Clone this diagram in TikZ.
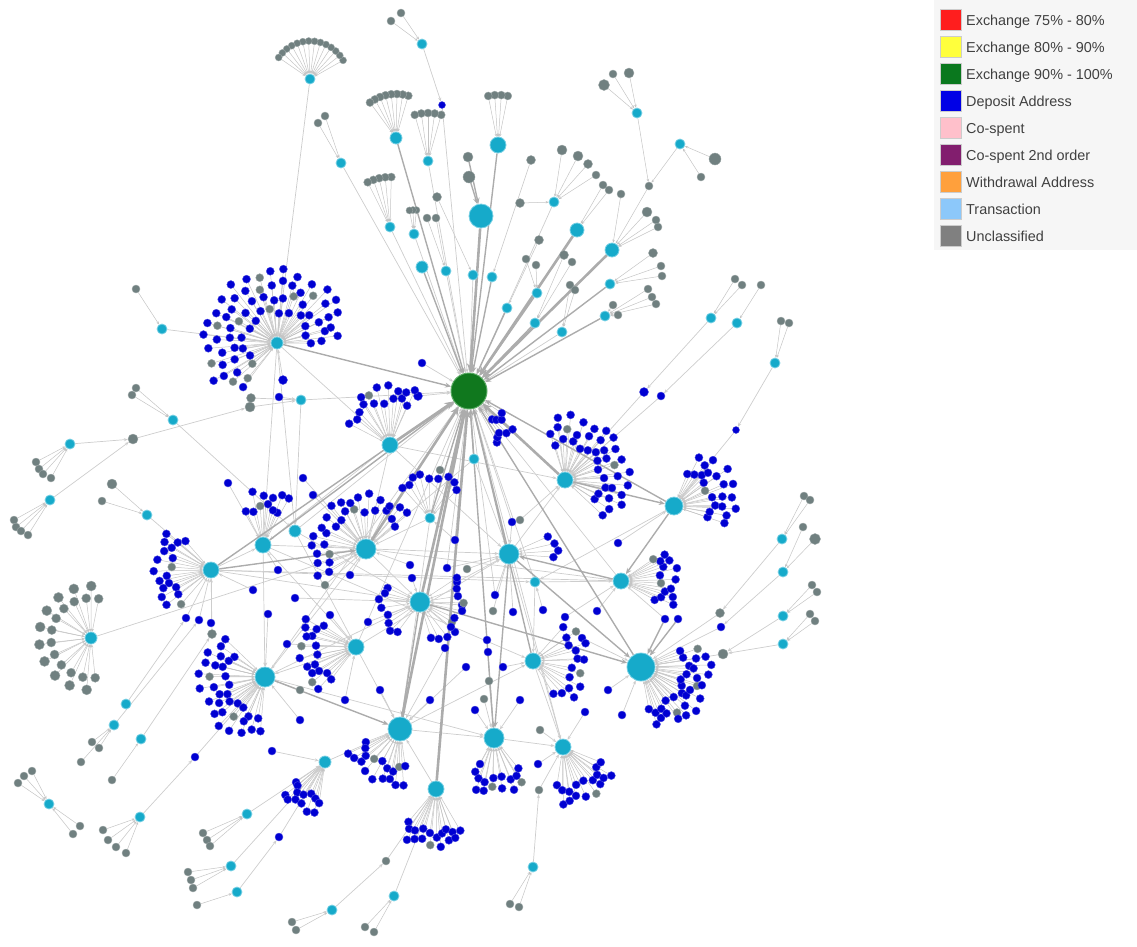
\documentclass[tikz,border=0pt]{standalone}
\usepackage{fontspec}
\setmainfont{Liberation Sans}
\usetikzlibrary{arrows.meta}
\pgfdeclarelayer{background}
\pgfsetlayers{background,main}
\definecolor{depC}{RGB}{0,0,210}
\definecolor{uncC}{RGB}{112,128,128}
\definecolor{hubC}{RGB}{22,170,202}
\definecolor{hubB}{RGB}{120,208,228}
\definecolor{exC}{RGB}{16,120,30}
\definecolor{exB}{RGB}{90,170,100}
\definecolor{edgeF}{RGB}{196,196,196}
\definecolor{edgeL}{RGB}{205,205,205}
\definecolor{edgeM}{RGB}{172,172,172}
\definecolor{legbg}{RGB}{246,246,246}
\definecolor{lgRed}{RGB}{255,30,30}
\definecolor{lgYel}{RGB}{255,255,60}
\definecolor{lgGrn}{RGB}{10,120,30}
\definecolor{lgBlu}{RGB}{0,0,230}
\definecolor{lgPnk}{RGB}{255,192,203}
\definecolor{lgPur}{RGB}{130,30,110}
\definecolor{lgOra}{RGB}{255,160,60}
\definecolor{lgLbl}{RGB}{140,200,250}
\definecolor{lgGry}{RGB}{128,128,128}
\tikzset{
 dot/.style={circle, inner sep=0pt, line width=0.4pt},
 hub/.style={circle, inner sep=0pt, fill=hubC, draw=hubB, line width=0.8pt},
 fan/.style={draw=edgeF, line width=0.5pt, -{Stealth[length=3pt,width=2.5pt]}},
 ln/.style={draw=edgeL, line width=0.7pt, -{Stealth[length=4pt,width=3.2pt]}},
 med/.style={draw=edgeM, line width=1.4pt, -{Stealth[length=6pt,width=5pt]}},
 thk/.style={draw=edgeM, line width=2.6pt, -{Stealth[length=9pt,width=8pt]}},
 legsq/.style={minimum size=21pt, inner sep=0pt, draw=black!20, line width=0.4pt},
 legtx/.style={anchor=base west, inner sep=0pt, text=black!75, font=\fontsize{14.4}{17}\selectfont},
}
% fan dots: hub, start, end, count, radius, gray every, size
\newcommand\fanring[7]{%
  \ifnum#6=1 \def\fjit{0}\else\def\fjit{1}\fi
  \foreach \i in {1,...,#4}{%
    \pgfmathsetmacro\fang{#2+(#3-#2)*(\i-0.5)/#4+2*\fjit*cos(\i*61)}%
    \pgfmathsetmacro\frad{#5+3.5*\fjit*sin(\i*97+#5*13)}%
    \pgfmathtruncatemacro\fm{mod(\i,#6)}%
    \ifnum\fm=0 \def\dcol{uncC}\else\def\dcol{depC}\fi
    \node[dot, fill=\dcol, draw=\dcol!70!white, minimum size=#7pt] (#1-#5-\i) at ([shift={(\fang:\frad pt)}]#1) {};
  }%
}
\newcommand\fanedges[7]{%
  \foreach \i in {1,...,#4}{\draw[fan] (#1-#5-\i) -- (#1);}%
}
\newcommand\allfans[1]{%
#1{t2}{25}{150}{14}{38}{1}{7}
#1{t4}{70}{130}{8}{44}{1}{8}
#1{t5}{70}{110}{5}{48}{1}{8}
#1{t6}{75}{105}{4}{50}{1}{8}
#1{t8}{85}{120}{5}{50}{1}{8}
#1{t9}{80}{105}{3}{24}{1}{7}
#1{t29}{-10}{230}{14}{33}{7}{8}
#1{t29}{-5}{235}{18}{46}{6}{8}
#1{t29}{0}{240}{21}{59}{5}{8}
#1{t29}{20}{215}{17}{71}{8}{8}
#1{t36}{60}{160}{9}{45}{99}{8}
#1{t36}{60}{125}{7}{57}{6}{8}
#1{t37}{125}{235}{10}{42}{5}{8}
#1{t37}{135}{225}{9}{54}{99}{8}
#1{t38}{60}{120}{6}{38}{4}{8}
#1{t38}{55}{105}{5}{51}{99}{8}
#1{t40}{30}{220}{14}{40}{6}{8}
#1{t40}{35}{215}{16}{52}{99}{8}
#1{t41}{40}{140}{9}{42}{99}{8}
#1{t43}{150}{240}{8}{38}{99}{8}
#1{t43}{-80}{40}{10}{41}{7}{8}
#1{t44}{-10}{30}{4}{46}{99}{8}
#1{t45}{-40}{110}{12}{38}{99}{8}
#1{t45}{-50}{115}{14}{50}{6}{8}
#1{t45}{-30}{100}{12}{62}{99}{8}
#1{t46}{-25}{75}{9}{38}{5}{8}
#1{t46}{-25}{70}{9}{51}{99}{8}
#1{t46}{-10}{55}{5}{62}{99}{8}
#1{t47}{-35}{40}{8}{42}{4}{8}
#1{t47}{-30}{35}{7}{54}{99}{8}
#1{t48}{70}{285}{12}{40}{1}{9}
#1{t48}{80}{275}{10}{52}{1}{10}
#1{t49}{140}{265}{11}{40}{99}{8}
#1{t49}{130}{270}{13}{52}{5}{8}
#1{t49}{150}{255}{9}{64}{99}{8}
#1{t50}{140}{240}{9}{42}{99}{8}
#1{t50}{145}{235}{9}{54}{4}{8}
#1{t51}{-65}{55}{10}{42}{99}{8}
#1{t51}{-50}{40}{6}{52}{3}{8}
#1{t52}{-85}{25}{12}{45}{99}{8}
#1{t52}{-80}{20}{12}{56}{4}{8}
#1{t52}{-60}{15}{8}{67}{99}{8}
#1{t53}{-165}{-75}{9}{40}{4}{8}
#1{t53}{-160}{-80}{9}{54}{99}{8}
#1{t54}{-125}{-45}{8}{42}{99}{8}
#1{t54}{-115}{-55}{6}{52}{3}{8}
#1{t55}{-105}{-15}{9}{42}{99}{8}
#1{t55}{-95}{-25}{8}{54}{5}{8}
#1{t56}{-150}{-95}{7}{38}{99}{8}
#1{t56}{-145}{-100}{6}{50}{99}{8}
#1{t57}{-135}{-55}{10}{45}{99}{8}
#1{t57}{-125}{-65}{7}{55}{4}{8}
#1{G}{-55}{-30}{4}{40}{99}{8}
#1{G}{-65}{-40}{5}{55}{99}{8}
}
\begin{document}
\begin{tikzpicture}[x=1pt,y=-1pt]
\useasboundingbox (0,0) rectangle (1137,946);
% legend
\fill[legbg] (934,0) rectangle (1137,250);
\foreach \k/\c/\t in {0/lgRed/Exchange 75\% - 80\%,1/lgYel/Exchange 80\% - 90\%,2/lgGrn/Exchange 90\% - 100\%,3/lgBlu/Deposit Address,4/lgPnk/Co-spent,5/lgPur/Co-spent 2nd order,6/lgOra/Withdrawal Address,7/lgLbl/Transaction,8/lgGry/Unclassified}{
  \node[legsq, fill=\c] (lsq\k) at (951,19.5+27*\k) {};
  \node[legtx] (ltx\k) at (966,25.3+27*\k) {\t};
}
% exchange node
\node[circle, inner sep=0pt, minimum size=36pt, fill=exC, draw=exB, line width=1pt] (G) at (469,391) {};
% transaction hubs
\foreach \n/\x/\y/\s in {t1/422/44/10,t2/310/79/10,t3/341/163/10,t4/396/138/12,t5/428/161/10,t6/498/145/16,t7/481/216/24,t8/390/227/10,t9/414/234/10,t10/422/267/12,t11/446/271/10,t12/473/275/10,t13/492/277/10,t14/507/308/10,t15/537/293/10,t16/535/323/10,t17/554/202/10,t18/577/230/14,t19/612/250/14,t20/610/284/10,t21/605/316/10,t22/562/332/10,t23/637/113/10,t24/680/144/10,t25/711/318/10,t26/737/323/10,t27/775/363/10,t28/162/329/10,t29/277/343/12,t30/173/420/10,t32/70/444/10,t33/50/500/10,t34/147/515/10,t35/301/400/10,t36/390/445/16,t37/211/570/16,t38/263/545/16,t39/295/531/12,t40/366/549/20,t41/430/518/10,t42/474/459/10,t43/420/602/20,t44/509/554/20,t45/565/480/16,t46/674/506/18,t47/621/581/16,t48/91/638/12,t49/265/677/20,t50/356/647/16,t51/533/661/16,t52/641/667/28,t53/400/729/24,t54/494/738/20,t55/563/747/16,t56/325/762/12,t57/436/789/16,t58/126/704/10,t59/114/725/10,t60/141/739/10,t61/49/804/10,t62/140/817/10,t63/247/814/10,t64/231/866/10,t65/237/892/10,t66/332/910/10,t67/394/896/10,t68/533/867/10,t69/782/539/10,t70/783/572/10,t71/783/616/10,t72/783/644/10,t73/535/582/10}{
  \node[hub, minimum size=\s pt] (\n) at (\x,\y) {};
}
% unclassified singles
\foreach \n/\x/\y/\s in {u31/133/439/10,g1a/391/21/8,g1b/401/13/8,g3a/318/123/8,g3b/325/116/8,g7a/468/157/10,g7b/469/177/12,g11a/427/218/8,g11b/436/218/8,g12/437/197/9,gs1/520/203/9,g17a/531/160/9,g17b/562/150/10,g17c/578/156/10,g17d/588/164/9,g17e/596/175/8,g18a/603/185/8,g18b/609/190/8,g18c/621/194/8,g24a/649/186/8,g23a/604/85/11,g23b/613/74/8,g23c/629/73/10,g24b/715/159/12,g24c/701/177/8,g19a/647/212/10,g19b/656/220/8,g19c/658/227/8,g20a/653/253/9,g20b/661/266/8,g20c/662/276/8,g21a/648/289/8,g21b/652/297/8,g21c/656/304/8,g21d/613/305/8,g21e/618/315/8,g14a/539/240/9,g15a/526/259/8,g15b/536/265/8,g16a/564/255/9,g16b/572/262/8,g22a/570/285/8,g22b/575/290/8,g28/136/289/8,g30a/136/388/8,g30b/132/395/8,gL1/251/398/9,gL2/250/407/10,g32a/36/462/8,g32b/39/469/8,g32c/43/474/8,g32d/51/478/8,g33a/14/520/8,g33b/16/527/8,g33c/21/531/8,g33d/28/535/8,g34a/112/484/10,g34b/102/501/8,gB1/212/634/9,g59a/92/742/8,g59b/99/748/8,g59c/81/762/8,g60a/112/780/8,g61a/18/783/8,g61b/24/776/8,g61c/32/771/8,g61d/80/826/8,g61e/73/834/8,g62a/103/830/8,g62b/108/840/8,g62c/116/847/8,g62d/126/853/8,g63a/203/833/8,g63b/207/840/8,g63c/210/846/8,g64a/188/872/8,g64b/191/880/8,g64c/193/888/8,g65a/197/905/8,g66a/292/922/8,g66b/296/930/8,gB2/386/861/8,g67a/365/927/8,g67b/374/932/8,g68a/510/904/8,g68b/519/907/8,gB3/539/790/8,g25a/735/279/8,g25b/742/285/8,g26a/761/285/8,g27a/781/321/8,g27b/789/323/8,g69a/804/496/8,g69b/810/500/8,g70a/803/527/8,g70b/815/539/11,g71a/812/585/8,g71b/817/592/8,g72a/810/614/8,g72b/815/621/8,gR1/720/613/9,gR2/723/654/10,d1/467/569/8,d2/493/611/8,d3/452/622/8,d4/489/681/8,d5/484/699/8,d6/540/730/8,d7/520/520/8,d8/325/585/8,d9/440/470/8,d10/300/690/8}{
  \node[dot, fill=uncC, draw=uncC!70!white, minimum size=\s pt] (\n) at (\x,\y) {};
}
% deposit singles
\foreach \n/\x/\y/\s in {b1/442/105/7,bL1/279/397/8,bL2/283/380/9,bL3/422/363/8,bL4/418/396/9,bB1/186/618/8,bB2/199/620/8,bB3/211/623/8,bB4/195/757/8,bB5/279/837/8,bB6/538/764/8,bB7/480/764/8,bB8/272/751/8,bR1/644/392/9,bR2/661/396/8,bR3/736/430/7,bR4/721/627/8,bR5/665/619/8,bR6/678/619/8,c1/228/483/8,c2/303/478/8,c3/313/495/8,c4/278/570/8,c5/253/590/8,c6/295/598/8,c7/268/614/8,c8/287/644/8,c9/368/622/8,c10/410/565/8,c11/412/578/8,c12/447/568/8,c13/457/582/8,c14/462/605/8,c15/455/632/8,c16/445/648/8,c17/495/595/8,c18/487/640/8,c19/488/652/8,c20/466/667/8,c21/503/667/8,c22/513/612/8,c23/543/610/8,c24/565/617/8,c25/582/638/8,c26/597/611/8,c27/618/543/8,c28/512/522/8,c29/475/710/8,c30/430/700/8,c31/380/690/8,c32/345/700/8,c33/300/720/8,c34/520/700/8,c35/585/712/8,c36/608/690/8,c37/622/715/8,c38/455/540/8,c39/330/615/8,c40/350/575/8}{
  \node[dot, fill=depC, draw=depC!70!white, minimum size=\s pt] (\n) at (\x,\y) {};
}
\allfans\fanring
% connectors
\begin{pgfonlayer}{background}
\allfans\fanedges
\foreach \a/\b in {g1a/t1,g1b/t1,g3a/t3,g3b/t3,g11a/t11,g11b/t11,g12/t12,gs1/t17,g17a/t13,g17b/t17,g17c/t17,g17d/t17,g17e/t17,g18a/t18,g18b/t18,g18c/t19,g24a/t19,t23/g24a,t24/g24a,g23a/t23,g23b/t23,g23c/t23,g24b/t24,g24c/t24,g19a/t19,g19b/t19,g19c/t19,g20a/t20,g20b/t20,g20c/t20,g21a/t21,g21b/t21,g21c/t21,g21d/t21,g21e/t21,g14a/t14,g15a/t15,g15b/t15,g16a/t16,g16b/t16,g22a/t22,g22b/t22,g28/t28,g30a/t30,g30b/t30,g32a/t32,g32b/t32,g32c/t32,g32d/t32,g33a/t33,g33b/t33,g33c/t33,g33d/t33,g34a/t34,g34b/t34,g59a/t59,g59b/t59,g59c/t59,g60a/t60,g61a/t61,g61b/t61,g61c/t61,g61d/t61,g61e/t61,g62a/t62,g62b/t62,g62c/t62,g62d/t62,g63a/t63,g63b/t63,g63c/t63,g64a/t64,g64b/t64,g64c/t64,g65a/t65,g66a/t66,g66b/t66,g67a/t67,g67b/t67,g68a/t68,g68b/t68,g25a/t25,g25b/t25,g26a/t26,g27a/t27,g27b/t27,g69a/t69,g69b/t69,g70a/t70,g70b/t70,g71a/t71,g71b/t71,g72a/t72,g72b/t72}{
  \draw[fan] (\a) -- (\b);
}
\foreach \a/\b in {t1/b1,b1/G,t2/t29,t28/t29,t32/u31,t33/u31,u31/gL2,gL1/t35,gL2/t35,bL1/t35,bL2/t29,bL3/G,bL4/G,t35/G,t30/t39,t34/t37,t58/bB1,t59/bB2,t60/gB1,bB1/t37,bB2/t37,bB3/t37,gB1/t37,t48/t40,t62/bB4,bB4/t49,t63/t56,t64/t56,t65/bB5,bB5/t56,t66/gB2,gB2/t57,t67/t57,t68/gB3,gB3/t55,bB6/t55,bB7/t54,bB8/t56,t25/bR1,bR1/t45,t26/bR2,bR2/t45,t27/bR3,bR3/t46,t69/gR1,gR1/t52,t70/bR4,bR4/t52,t71/gR2,t72/gR2,gR2/t52,bR5/t47,t3/G,t5/G,t8/G,t9/G,t11/G,t12/G,t17/G,t22/G,t39/G,t49/G,t73/G,t47/G,t55/G,t50/G,t36/t45,t38/t44,t40/t47,t37/t47,t49/t54,t53/t54,t54/t55,t50/t53,t44/t55,t51/t55,t40/t43,t40/t49,t38/t49,t39/t43,t41/t53,t42/t44,t73/t51,t46/t73,t36/t38,t29/t36,t29/t38,t29/t39,t35/t39,t36/t40,t50/t49,t56/t53,t57/t53,t53/t51,t50/t44,t39/t50,t38/t50,t37/t43,t41/t40,t42/t40,t44/t45,t73/t47,t37/t38,t37/t73,t49/t43,t38/t51,t36/t44,c1/t38,c2/t40,c3/t40,c4/t38,c5/t37,c6/t43,c7/t49,c8/t50,c9/t43,c10/t40,c11/t43,c12/t44,c13/t44,c14/t43,c15/t43,c16/t53,c17/t44,c18/t54,c19/t54,c20/t53,c21/t51,c22/t44,c23/t73,c24/t47,c25/t52,c26/t47,c27/t46,c28/t44,c29/t54,c30/t53,c31/t53,c32/t50,c33/t49,c34/t54,c35/t55,c36/t52,c37/t52,c38/t41,c39/t50,c40/t40,d1/t44,d2/t44,d3/t43,d4/t54,d5/t54,d6/t55,d7/t45,d8/t40,d9/G,d10/t49,c12/G,c28/G,c38/G,c17/G}{
  \draw[ln] (\a) -- (\b);
}
\foreach \a/\b in {g7a/t7,g7b/t7,t6/G,t4/G,t10/G,t13/G,t14/G,t15/G,t16/G,t20/G,t21/G,t29/G,t37/G,t38/G,t41/G,t42/G,t44/G,t46/G,t52/G,t54/G,t51/G,t45/t46,t44/t52,t49/t53,t43/t53,t44/t54,t37/t40,t43/t52,t46/t47,t47/t44,bR5/t52,bR6/t52}{
  \draw[med] (\a) -- (\b);
}
\foreach \a/\b in {t7/G,t18/G,t19/G,t36/G,t40/G,t43/G,t45/G,t53/G,t57/G}{
  \draw[thk] (\a) -- (\b);
}
\end{pgfonlayer}
\end{tikzpicture}
\end{document}
